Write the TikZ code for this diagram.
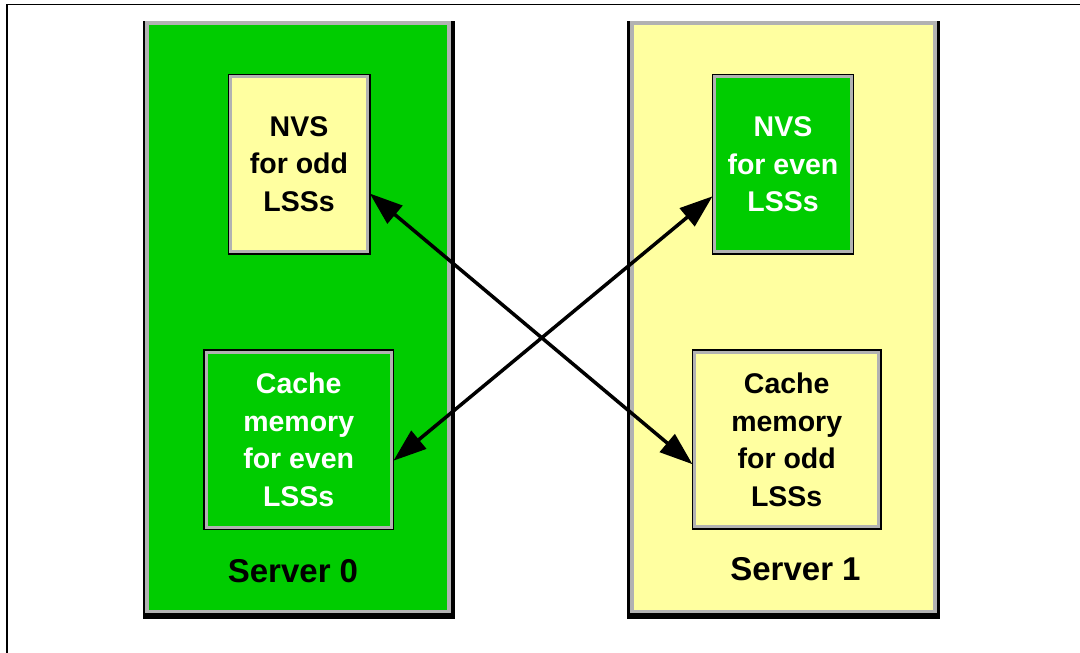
\documentclass[tikz,border=0pt]{standalone}
\usepackage{fontspec}
\setmainfont{Liberation Sans}
\usetikzlibrary{arrows.meta}
\definecolor{srvgreen}{RGB}{0,204,0}
\definecolor{srvyellow}{RGB}{255,255,160}
\definecolor{bandgrey}{RGB}{178,178,178}
\tikzset{
  outerbox/.style={draw=black, line width=1.5pt, fill=bandgrey, inner sep=0pt, outer sep=0pt},
  innerbox/.style={inner sep=0pt, outer sep=0pt, align=center,
    font=\fontsize{28.5}{37.5}\selectfont\bfseries},
  srvlabel/.style={anchor=base, inner sep=0pt, font=\fontsize{33}{40}\selectfont\bfseries},
  link/.style={line width=3.5pt, {Triangle[length=33pt,width=23pt]}-{Triangle[length=33pt,width=23pt]}}
}
\begin{document}
\begin{tikzpicture}[x=1pt,y=-1pt]
\useasboundingbox (0,0) rectangle (1080,653);
% page frame
\draw[line width=1.5pt] (7.2,653) -- (7.2,4.5) -- (1080,4.5);
% Server 0
\fill[black] (142.7,21) rectangle (454.5,619);
\fill[bandgrey] (144.7,21) rectangle (451,613.3);
\fill[srvgreen] (148.5,25) rectangle (447,610);
% Server 1
\fill[black] (627.3,21) rectangle (939.7,619);
\fill[bandgrey] (630,21) rectangle (936.5,613.3);
\fill[srvyellow] (633.5,25) rectangle (932.5,610);
% inner boxes
\node[outerbox, minimum width=141.5pt, minimum height=179.5pt] (nvs0) at (299,164) {};
\node[innerbox, fill=srvyellow, text=black, minimum width=134pt, minimum height=172pt] (nvs0t) at (nvs0.center) {NVS\\for odd\\LSSs};
\node[outerbox, minimum width=189.5pt, minimum height=179.5pt] (cache0) at (298.7,439.7) {};
\node[innerbox, fill=srvgreen, text=white, minimum width=182pt, minimum height=172pt] (cache0t) at (cache0.center) {Cache\\memory\\for even\\LSSs};
\node[outerbox, minimum width=141pt, minimum height=179.5pt] (nvs1) at (783,164.3) {};
\node[innerbox, fill=srvgreen, text=white, minimum width=133.5pt, minimum height=172pt] (nvs1t) at (nvs1.center) {NVS\\for even\\LSSs};
\node[outerbox, minimum width=188.5pt, minimum height=179pt] (cache1) at (786.7,439.7) {};
\node[innerbox, fill=srvyellow, text=black, minimum width=181pt, minimum height=171.5pt] (cache1t) at (cache1.center) {Cache\\memory\\for odd\\LSSs};
% server labels
\node[srvlabel] (lab0) at (293,582) {Server 0};
\node[srvlabel] (lab1) at (795.5,580) {Server 1};
% connectors
\draw[link] ([yshift=-29.5pt]nvs0.east) -- ([yshift=-24.5pt]cache1.west);
\draw[link] ([yshift=-21pt]cache0.east) -- ([yshift=-32pt]nvs1.west);
\end{tikzpicture}
\end{document}
